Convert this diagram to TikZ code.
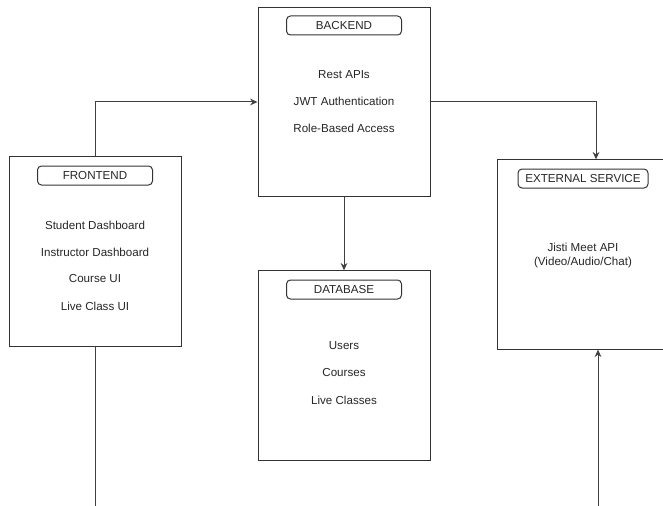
\documentclass[tikz,border=0pt]{standalone}
\usepackage{fontspec}
\setmainfont{Liberation Sans}
\usetikzlibrary{arrows.meta}
\newcommand\fsz{\fontsize{8.7}{10.5}\selectfont}
\begin{document}
\begin{tikzpicture}[x=0.75pt, y=-0.75pt,
    box/.style={draw=black!80, line width=0.75pt, minimum width=129pt, minimum height=142pt, inner sep=0pt},
    pill/.style={draw=black!80, line width=0.75pt, rounded corners=3pt, minimum width=86.25pt,
                 minimum height=14.25pt, inner sep=0pt, font=\fsz, text=black!85},
    item/.style={font=\fsz, text=black!85, align=center, inner sep=0pt},
    link/.style={draw=black!75, line width=0.75pt, -{Stealth[length=5.5pt, width=5pt]}}]
  \useasboundingbox (0,0) rectangle (663,506);
  \clip (0,0) rectangle (663,506);
  % boxes
  \node[box] (front) at (95, 251.5) {};
  \node[box] (back)  at (344, 102) {};
  \node[box] (db)    at (344, 365.5) {};
  \node[box] (ext)   at (583, 254.5) {};
  % titles
  \node[pill] (frontT) at (95, 175.5) {FRONTEND};
  \node[pill] (backT)  at (344, 25.5) {BACKEND};
  \node[pill] (dbT)    at (344, 289.5) {DATABASE};
  \node[pill, minimum width=97.5pt] (extT) at (583, 178.5) {EXTERNAL SERVICE};
  % contents
  \foreach \n/\y/\lab in {1/225/Student Dashboard, 2/252/Instructor Dashboard,
                          3/279/Course UI, 4/306/Live Class UI}
    \node[item] (front\n) at (95, \y) {\lab};
  \foreach \n/\y/\lab in {1/75/Rest APIs, 2/101/JWT Authentication, 3/128/Role-Based Access}
    \node[item] (back\n) at (344, \y) {\lab};
  \foreach \n/\y/\lab in {1/346/Users, 2/373/Courses, 3/400/Live Classes}
    \node[item] (db\n) at (344, \y) {\lab};
  \node[item] (ext1) at (583, 255.5) {Jisti Meet API\\(Video/Audio/Chat)};
  % connectors
  \coordinate (frontout) at (95, 506);
  \coordinate (extsrc) at (598, 506);
  \draw[link] (front.north) |- (back.west);
  \draw[link] (back.east) -| ([xshift=9.75pt]ext.north);
  \draw[link] (back.south) -- (db.north);
  \draw[draw=black!75, line width=0.75pt] (front.south) -- (frontout);
  \draw[link] (extsrc) -- (extsrc |- ext.south);
\end{tikzpicture}
\end{document}
